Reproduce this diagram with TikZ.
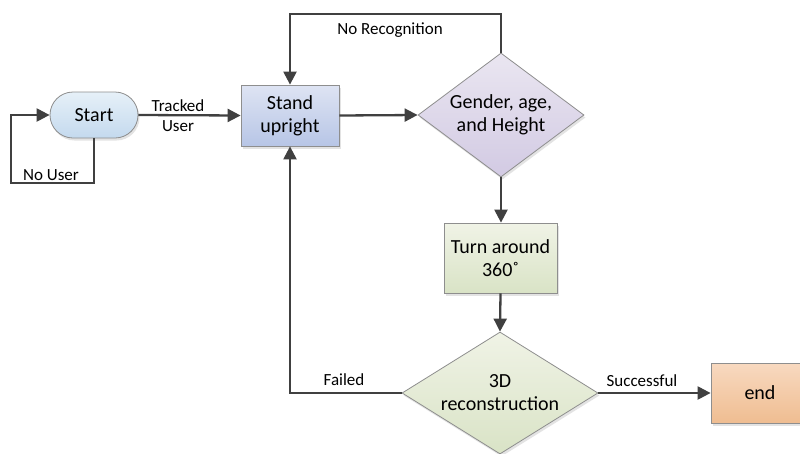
\documentclass[tikz,border=0pt]{standalone}
\usepackage{fontspec}
\setmainfont{Carlito}
\usetikzlibrary{shapes.geometric,arrows.meta,shadows}
\definecolor{edgegray}{HTML}{404040}
\definecolor{framegray}{HTML}{8E8E8E}
\definecolor{startTop}{HTML}{E6F0F8}\definecolor{startBot}{HTML}{C4D9EE}
\definecolor{standTop}{HTML}{DEE4F3}\definecolor{standBot}{HTML}{B7C5E6}
\definecolor{genTop}{HTML}{EAE6F1}\definecolor{genBot}{HTML}{D2CAE3}
\definecolor{greenTop}{HTML}{F0F3E6}\definecolor{greenBot}{HTML}{D9E3C6}
\definecolor{endTop}{HTML}{F8D9C0}\definecolor{endBot}{HTML}{EFBD91}
\tikzset{
  x=1pt, y=-1pt,
  vgrad/.style 2 args={top color=#1, bottom color=#2},
  base/.style={draw=framegray, line width=0.8pt, inner sep=0pt, align=center,
    font=\fontsize{20}{23}\selectfont,
    drop shadow={shadow xshift=1.5pt, shadow yshift=-2.5pt, opacity=0.18, fill=black!60}},
  pill/.style={base, rectangle, rounded corners=23pt, minimum width=88pt, minimum height=46pt,
    vgrad={startTop}{startBot}},
  stepbox/.style={base, rectangle, minimum width=98pt, minimum height=61pt},
  decision/.style={base, diamond},
  flow/.style={draw=edgegray, line width=2.3pt, -{Triangle[length=13pt,width=13pt]}},
  lbl/.style={font=\fontsize{17}{20}\selectfont, align=center, inner sep=0pt}
}
\begin{document}
\begin{tikzpicture}
\useasboundingbox (0,0) rectangle (800,453);
\fill[white] (0,0) rectangle (800,453);

% process nodes
\node[pill] (start) at (94,115) {Start};
\node[stepbox, vgrad={standTop}{standBot}] (stand) at (290,115.5) {Stand\\upright};
\node[decision, aspect=1.34, minimum width=166pt, minimum height=124pt, vgrad={genTop}{genBot}]
  (gender) at (501,115) {Gender, age,\\and Height};
\node[stepbox, minimum width=113pt, minimum height=70pt, vgrad={greenTop}{greenBot}]
  (turn) at (500.5,258) {Turn around\\360˚};
\node[decision, aspect=1.6, minimum width=196pt, minimum height=122pt, vgrad={greenTop}{greenBot}]
  (recon) at (500,393) {3D\\reconstruction};
\node[stepbox, minimum width=98pt, minimum height=60pt, vgrad={endTop}{endBot}]
  (finish) at (760,393) {end};

% connectors
\coordinate (nuA) at (94,183);
\coordinate (nuB) at (11,183);
\coordinate (nuC) at (11,115);
\draw[flow] (start.south) -- (nuA) -- (nuB) -- (nuC) -- (start.west);
\node[lbl] (nulbl) at (51,175) {No User};

\draw[flow] (start.east) -- (stand.west);
\node[lbl] (tracked) at (178,115.5) {Tracked\\User};

\draw[flow] (stand.east) -- (gender.west);

\coordinate (nrA) at (501,14);
\coordinate (nrB) at (290,14);
\draw[flow] (gender.north) -- (nrA) -- (nrB) -- (stand.north);
\node[lbl] (norec) at (390,30) {No Recognition};

\draw[flow] (gender.south) -- (gender.south |- turn.north);
\draw[flow] (turn.south) -- (recon.north);

\coordinate (flA) at (290,393);
\draw[flow] (recon.west) -- (flA) -- (stand.south);
\node[lbl] (failed) at (344,380) {Failed};

\draw[flow] (recon.east) -- (finish.west);
\node[lbl] (success) at (642,381) {Successful};
\end{tikzpicture}
\end{document}
